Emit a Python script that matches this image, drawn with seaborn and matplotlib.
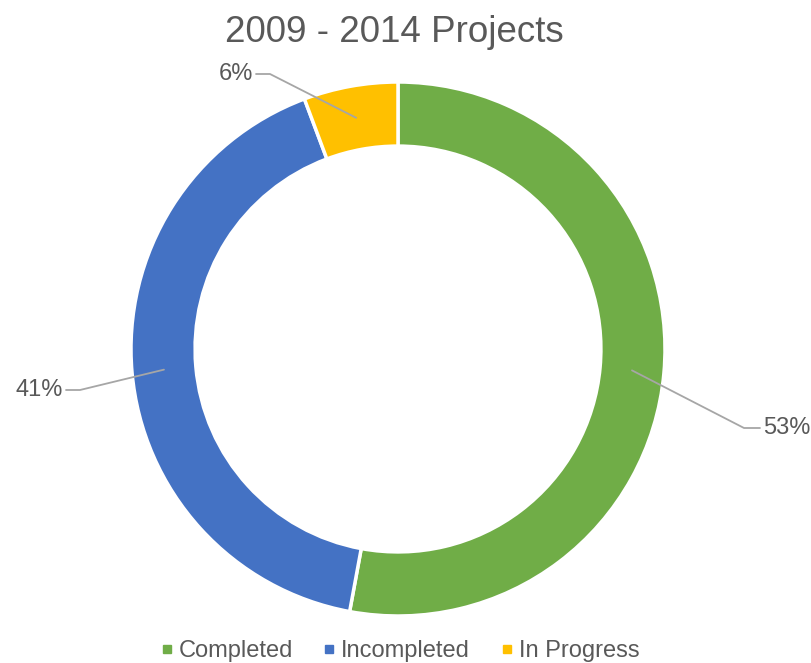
import numpy as np
import seaborn as sns
import matplotlib.pyplot as plt
from matplotlib.lines import Line2D

# data
categories = ["Completed", "Incompleted", "In Progress"]
shares = [52.9, 41.4, 5.7]
colors = ["#70AD47", "#4472C4", "#FFC000"]

sns.set_theme(style="white")
plt.rcParams['font.family'] = ['Liberation Sans', 'DejaVu Sans']
text_gray = "#595959"

fig = plt.figure(figsize=(8.12, 6.63), dpi=100)
ax = fig.add_axes([0, 0, 1, 1])

cx, cy = 398, 314
r_out = 267
ring = 0.24

wedges, _ = ax.pie(shares, colors=colors, startangle=90, counterclock=False,
                   center=(cx, cy), radius=r_out, frame=True,
                   wedgeprops=dict(width=r_out * ring, edgecolor="white", linewidth=2.5))
ax.set_xlim(0, 812)
ax.set_ylim(0, 663)
ax.set_aspect("equal")
ax.axis("off")

# label layout: (elbow x, label y, text side)
label_pos = [(760, 235, "left"), (66, 273, "right"), (256, 589, "right")]
r_mid = r_out * (1 - ring / 2)
for w, val, (ex, ly, side) in zip(wedges, shares, label_pos):
    ang = np.deg2rad((w.theta1 + w.theta2) / 2)
    px, py = cx + r_mid * np.cos(ang), cy + r_mid * np.sin(ang)
    if side == "left":
        kx = ex - 16
        tx = ex + 3
    else:
        kx = ex + 14
        tx = ex - 3
    ax.plot([px, kx, ex], [py, ly, ly], color="#A6A6A6", lw=1.3)
    ax.text(tx, ly, f"{val:.0f}%", ha="left" if side == "left" else "right",
            va="center", fontsize=17, color=text_gray)

ax.text(394, 631, "2009 - 2014 Projects", ha="center", va="center",
        fontsize=26.5, color=text_gray)

handles = [Line2D([], [], marker="s", linestyle="none", color=c, markersize=5.5)
           for c in colors]
ax.legend(handles, categories, loc="center", bbox_to_anchor=(400, 12),
          bbox_transform=ax.transData, ncol=3, frameon=False, fontsize=17,
          handlelength=0.5, handletextpad=0.25, columnspacing=1.3,
          labelcolor=text_gray, borderpad=0)

fig.savefig("out.png", dpi=100)
